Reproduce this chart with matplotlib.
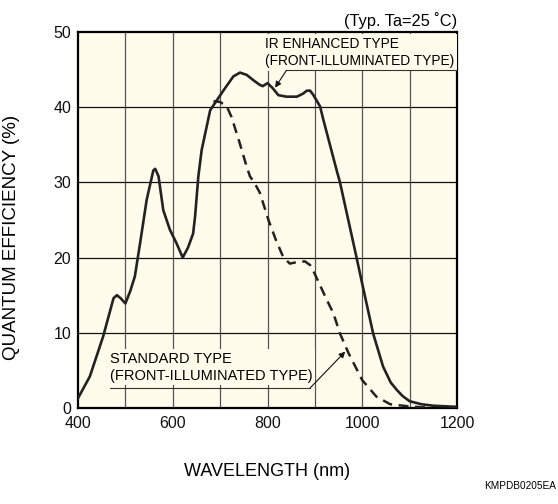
import numpy as np
import matplotlib
matplotlib.use("Agg")
import matplotlib.pyplot as plt

plt.rcParams['font.family'] = ['Liberation Sans', 'DejaVu Sans']

# IR enhanced type (front-illuminated), solid line
ir_wl = [400, 425, 453, 475, 482, 490, 500, 510, 520, 531, 545, 559, 563, 570, 580,
         594, 608, 621, 632, 643, 647, 654, 661, 679, 696, 710, 728, 742, 756, 770,
         783, 790, 800, 810, 823, 840, 862, 875, 883, 890, 897, 911, 918, 946, 953,
         988, 1000, 1023, 1044, 1060, 1073, 1085, 1100, 1125, 1150, 1200]
ir_qe = [1.3, 4.2, 9.5, 14.6, 15.0, 14.6, 13.9, 15.5, 17.5, 21.9, 27.7, 31.6, 31.8, 30.8, 26.3,
         23.7, 21.9, 20.0, 21.3, 23.2, 25.4, 30.8, 34.3, 39.6, 41.2, 42.5, 44.1, 44.6, 44.3, 43.6,
         43.0, 42.8, 43.2, 42.6, 41.6, 41.4, 41.4, 41.8, 42.2, 42.2, 41.6, 40.1, 38.3, 31.6, 30.0,
         20.0, 16.5, 9.9, 5.5, 3.4, 2.4, 1.6, 0.9, 0.5, 0.3, 0.15]

# standard type (front-illuminated), dashed line
std_wl = [686, 700, 714, 724, 740, 756, 763, 772, 784, 802, 818, 833, 847, 862, 879,
          890, 900, 925, 939, 953, 971, 1000, 1030, 1059, 1100, 1140]
std_qe = [40.8, 40.7, 40.1, 38.7, 35.5, 32.1, 30.8, 30.0, 28.6, 25.0, 22.3, 20.1, 19.2, 19.4, 19.5,
          19.0, 17.8, 14.4, 12.6, 9.9, 7.3, 3.7, 1.5, 0.5, 0.2, 0.05]

xticks = [400, 600, 800, 1000, 1200]
yticks = [0, 10, 20, 30, 40, 50]

bg = '#FFFCEB'

fig = plt.figure(figsize=(5.58, 5.04), dpi=100)
ax = fig.add_axes([0.1398, 0.1905, 0.6792, 0.746])
ax.set_facecolor(bg)

for x in range(500, 1200, 100):
    ax.axvline(x, color='#555555', lw=0.9, zorder=1)
for y in range(10, 50, 10):
    ax.axhline(y, color='#111111', lw=0.9, zorder=1)

ax.plot(std_wl, std_qe, color='#222222', lw=1.8, ls=(0, (4, 2.6)), zorder=3)
ax.plot(ir_wl, ir_qe, color='#222222', lw=1.9, zorder=4)

ax.set_xlim(400, 1200)
ax.set_ylim(0, 50)
ax.set_xticks(xticks)
ax.set_yticks(yticks)
ax.tick_params(length=0, labelsize=11.5, colors='#111111')
ax.tick_params(axis='x', pad=6)
ax.tick_params(axis='y', pad=5)
for s in ax.spines.values():
    s.set_linewidth(1.6)

ax.set_xlabel('WAVELENGTH (nm)', fontsize=13, va='center')
ax.xaxis.set_label_coords(0.5, -0.1676)
ax.set_ylabel('QUANTUM EFFICIENCY (%)', fontsize=13.5, va='center')
ax.yaxis.set_label_coords(-0.175, 0.4535)

# labels with pointer lines
ax.text(795, 47.3, 'IR ENHANCED TYPE\n(FRONT-ILLUMINATED TYPE)', fontsize=9.9,
        ha='left', va='center', linespacing=1.3, zorder=5,
        bbox=dict(facecolor=bg, edgecolor='none', pad=2))
ax.plot([840, 1198], [44.9, 44.9], color='#333333', lw=0.8, zorder=5)
ax.annotate('', xy=(816, 42.6), xytext=(840, 44.9), zorder=6,
            arrowprops=dict(arrowstyle='-|>', color='#111111', lw=0.8,
                            mutation_scale=9, shrinkA=0, shrinkB=0))

ax.text(467, 5.4, 'STANDARD TYPE\n(FRONT-ILLUMINATED TYPE)', fontsize=10.5,
        ha='left', va='center', linespacing=1.22, zorder=5,
        bbox=dict(facecolor=bg, edgecolor='none', pad=2))
ax.plot([467, 890], [2.66, 2.66], color='#333333', lw=0.8, zorder=5)
ax.annotate('', xy=(964, 7.5), xytext=(890, 2.66), zorder=6,
            arrowprops=dict(arrowstyle='-|>', color='#111111', lw=0.8,
                            mutation_scale=9, shrinkA=0, shrinkB=0))

fig.text(0.819, 0.960, '(Typ. Ta=25 \u02daC)', fontsize=11.8, ha='right', va='center')
fig.text(0.997, 0.036, 'KMPDB0205EA', fontsize=7.2, ha='right', va='center')

fig.savefig('out.png', dpi=100, facecolor='white')
